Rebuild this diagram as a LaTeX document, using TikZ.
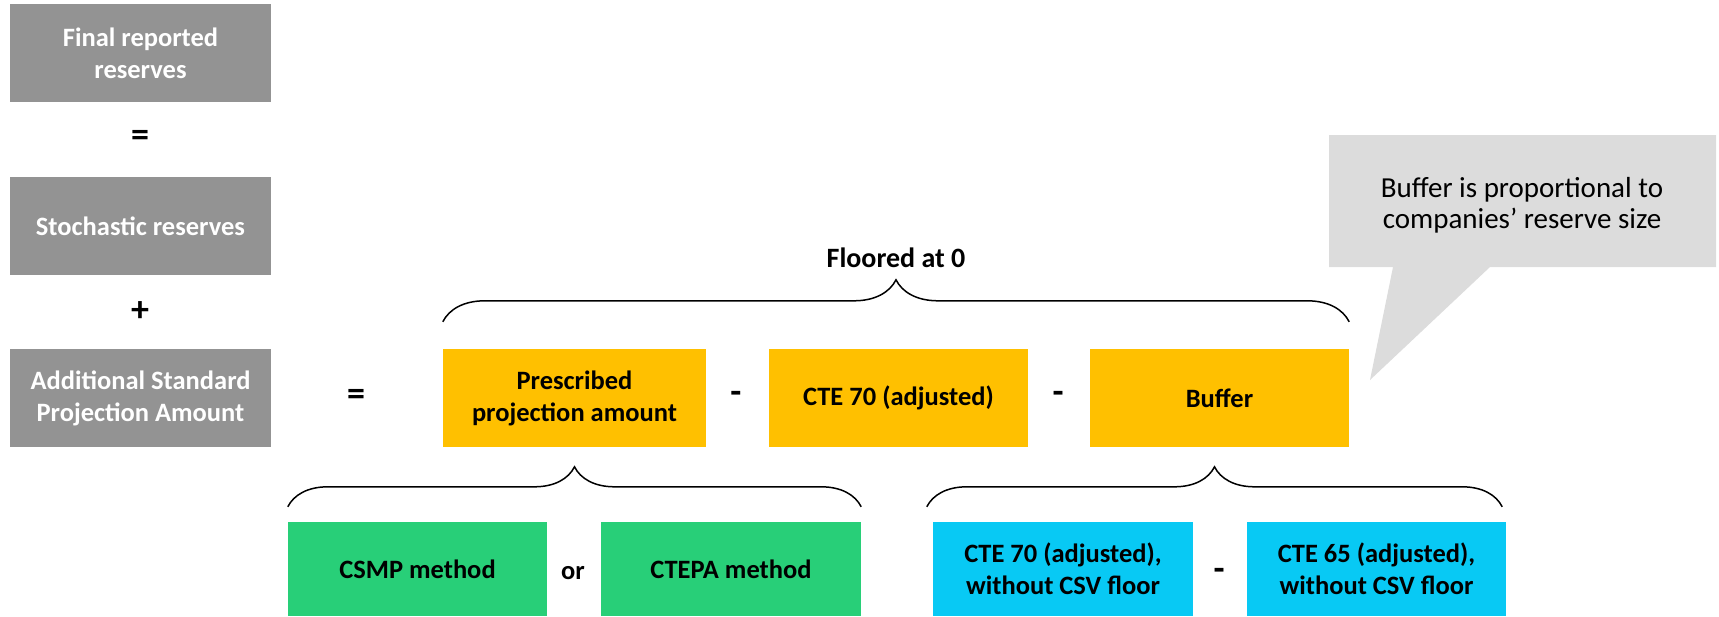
\documentclass[tikz,border=0pt]{standalone}
\usepackage{fontspec}
\setmainfont{Carlito}
\usetikzlibrary{decorations.pathreplacing}
\definecolor{greybox}{HTML}{939393}
\definecolor{orangebox}{HTML}{FFC000}
\definecolor{greenbox}{HTML}{28CF78}
\definecolor{cyanbox}{HTML}{08C9F4}
\definecolor{callgrey}{HTML}{DCDCDC}
\begin{document}
\begin{tikzpicture}[x=1pt,y=-1pt,
  box/.style={rectangle, inner sep=0pt, align=center, font=\fontsize{26.5}{32}\selectfont\bfseries},
  greyb/.style={box, fill=greybox, text=white, minimum width=261pt, minimum height=98pt},
  orangeb/.style={box, fill=orangebox, text=black, minimum height=98pt},
  lowb/.style={box, text=black, minimum height=94pt, minimum width=259pt},
  sign/.style={inner sep=0pt, font=\fontsize{36}{36}\selectfont\bfseries},
  brc/.style={decorate, decoration={brace, amplitude=#1}, line width=1.5pt}
]
\useasboundingbox (0,0) rectangle (1719,616);

% left column
\node[greyb] (fin) at (140.5,53) {Final reported\\reserves};
\node[greyb] (sto) at (140.5,226) {Stochastic reserves};
\node[greyb] (add) at (140.5,398) {Additional Standard\\Projection Amount};
\node[sign] (eq1) at (140,138) {=};
\node[sign] (pl) at (140,312) {+};

% orange row
\node[sign] (eq2) at (356,397) {=};
\node[orangeb, minimum width=263pt] (pre) at (574.5,398) {Prescribed\\projection amount};
\node[sign] (m1) at (736,397) {-};
\node[orangeb, minimum width=259pt] (cte) at (898.5,398) {CTE 70 (adjusted)};
\node[sign] (m2) at (1058,397) {-};
\node[orangeb, minimum width=259pt] (buf) at (1219.5,398) {Buffer};

% top brace
\draw[brc=42pt] ([yshift=27pt]pre.north west) -- ([yshift=27pt]buf.north east);
\node[box, font=\fontsize{28}{32}\selectfont\bfseries] (floor) at (896,258) {Floored at 0};

% bottom row
\node[lowb, fill=greenbox] (csmp) at (417.5,569) {CSMP method};
\node[box] (or) at (573,573) {or};
\node[lowb, fill=greenbox, minimum width=260pt] (ctepa) at (731,569) {CTEPA method};
\node[lowb, fill=cyanbox, minimum width=260pt] (c70) at (1063,569) {CTE 70 (adjusted),\\without CSV floor};
\node[sign] (m3) at (1219,574) {-};
\node[lowb, fill=cyanbox] (c65) at (1376.5,569) {CTE 65 (adjusted),\\without CSV floor};

\draw[brc=40pt] ([yshift=15pt]csmp.north west) -- ([yshift=15pt]ctepa.north east);
\draw[brc=40pt] ([xshift=-6pt,yshift=15pt]c70.north west) -- ([xshift=-4pt,yshift=15pt]c65.north east);

% callout
\fill[callgrey] (1329,135) -- (1716,135) -- (1716,267) -- (1490,267) -- (1370,380) -- (1393,267) -- (1329,267) -- cycle;
\node[align=center, inner sep=0pt, font=\fontsize{29}{31}\selectfont] (note) at (1522,205) {Buffer is proportional to\\companies’ reserve size};
\end{tikzpicture}
\end{document}
